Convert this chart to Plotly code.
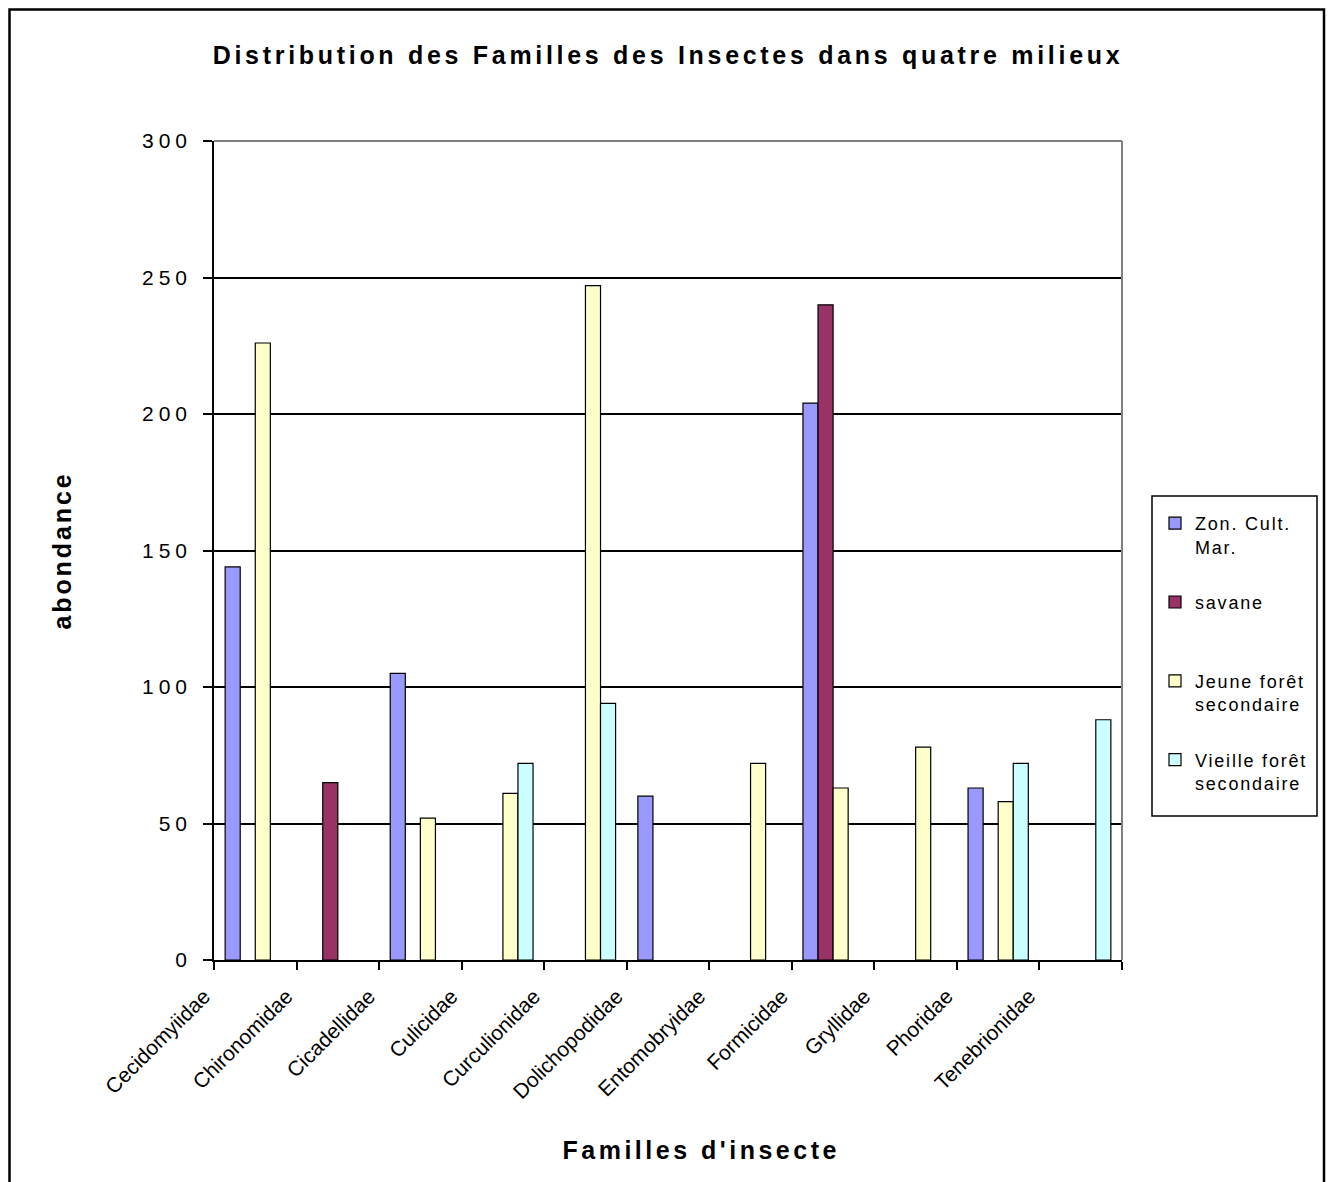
import plotly.graph_objects as go

categories = ["Cecidomyiidae", "Chironomidae", "Cicadellidae", "Culicidae", "Curculionidae",
              "Dolichopodidae", "Entomobryidae", "Formicidae", "Gryllidae", "Phoridae", "Tenebrionidae"]
zone_cult = [144, None, 105, None, None, 60, None, 204, None, 63, None]
savane = [None, 65, None, None, None, None, None, 240, None, None, None]
jeune_foret = [226, None, 52, 61, 247, None, 72, 63, 78, 58, None]
vieille_foret = [None, None, None, 72, 94, None, None, None, None, 72, 88]

series_names = ["Zon. Cult.<br>Mar.", "savane<br> ", "Jeune forêt<br>secondaire", "Vieille forêt<br>secondaire"]
series_values = [zone_cult, savane, jeune_foret, vieille_foret]
series_colors = ["#9999FF", "#993366", "#FFFFCC", "#CCFFFF"]

y_ticks = [0, 50, 100, 150, 200, 250, 300]

FONT = "Liberation Sans, Arial, sans-serif"

# page coordinates of the plot area (figure is placed at page offset 8,8)
PL, PR, PT, PB = 214, 1122, 141, 960
OFF = 8


def px(x):
    return (x - PL) / (PR - PL)


def py(y):
    return (PB - y) / (PB - PT)


x_pos = list(range(len(categories)))
tick_pos = [i - 0.5 for i in range(len(categories) + 1)]
tick_text = categories + [""]

fig = go.Figure()
for name, vals, col in zip(series_names, series_values, series_colors):
    fig.add_trace(go.Bar(
        x=x_pos, y=vals, name=name, legendgroup=name,
        marker=dict(color=col, line=dict(color="black", width=1.2)),
    ))

W, H = 1334, 1182
fig.update_layout(
    width=W, height=H,
    margin=dict(l=PL - OFF, r=W - (PR - OFF), t=PT - OFF, b=H - (PB - OFF)),
    paper_bgcolor="white", plot_bgcolor="white",
    barmode="group", bargap=0.27, bargroupgap=0,
    font=dict(family=FONT, color="black"),
    title=dict(text="Distribution des Familles des Insectes dans quatre milieux",
               x=0.5, xref="paper", xanchor="center",
               y=1 - (55 - OFF) / H, yref="container", yanchor="middle",
               font=dict(family=FONT, size=25, weight=700, color="black")),
    xaxis=dict(range=[-0.5, 10.5], tickmode="array", tickvals=tick_pos, ticktext=tick_text,
               tickangle=-45, ticks="outside", ticklen=8, tickwidth=1.5, tickcolor="black",
               ticklabelshift=-10, ticklabelstandoff=6,
               showline=True, linecolor="black", linewidth=1.5, showgrid=False, zeroline=False,
               tickfont=dict(family=FONT, size=21, color="black")),
    yaxis=dict(range=[0, 300], tickmode="array", tickvals=y_ticks,
               ticks="outside", ticklen=9, tickwidth=1.5, tickcolor="black",
               ticklabelstandoff=7,
               showline=True, linecolor="black", linewidth=1.5,
               showgrid=True, gridcolor="black", gridwidth=1.5, zeroline=False,
               tickfont=dict(family=FONT, size=21, color="black"),
               title=dict(text="abondance", standoff=78,
                          font=dict(family=FONT, size=25, weight=700, color="black"))),
    legend=dict(x=px(1155), xanchor="left", y=py(505), yanchor="top",
                xref="paper", yref="paper",
                font=dict(family=FONT, size=18, color="black"),
                valign="top", traceorder="grouped", tracegroupgap=29,
                bgcolor="rgba(0,0,0,0)", borderwidth=0),
    showlegend=True,
)

# x-axis title
fig.add_annotation(text="<b>Familles d'insecte</b>", x=px(701), y=py(1150),
                   xref="paper", yref="paper", showarrow=False, xanchor="center", yanchor="middle",
                   font=dict(family=FONT, size=25, color="black"))

# plot-area border (grey top and right)
fig.add_shape(type="line", xref="paper", yref="paper", x0=0, x1=1, y0=1, y1=1,
              line=dict(color="#808080", width=2), layer="above")
fig.add_shape(type="line", xref="paper", yref="paper", x0=1, x1=1, y0=0, y1=1,
              line=dict(color="#808080", width=2), layer="above")
# legend box
fig.add_shape(type="rect", xref="paper", yref="paper",
              x0=px(1152), x1=px(1317), y0=py(816), y1=py(496),
              line=dict(color="black", width=1.5), fillcolor="rgba(0,0,0,0)", layer="below")
# chart-area border
fig.add_shape(type="rect", xref="paper", yref="paper",
              x0=px(9.5), x1=px(1324), y0=py(1200), y1=py(9.5),
              line=dict(color="black", width=2.5), fillcolor="rgba(0,0,0,0)", layer="below")

post = """
var gd = document.getElementById('{plot_id}');
function ls(sel, v){ var els = gd.querySelectorAll(sel); for (var i=0;i<els.length;i++){ els[i].style.letterSpacing = v; } }
ls('.gtitle', '3.7px');
ls('.ytitle', '2.9px');
ls('.annotation-text', '3.5px');
ls('.ytick text', '5px');
ls('.legendtext', '1.8px');
var cl = gd.querySelectorAll('.legend [clip-path]');
for (var j=0;j<cl.length;j++){ cl[j].removeAttribute('clip-path'); }
"""

fig.write_html("out.html", post_script=post)
